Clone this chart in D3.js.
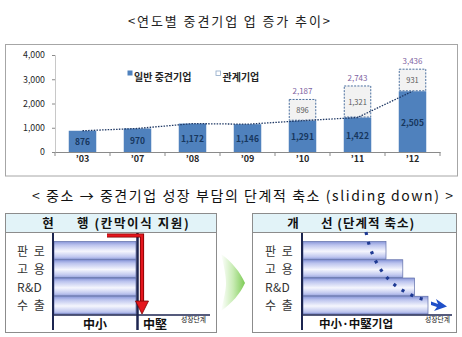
<!DOCTYPE html>
<html><head><meta charset="utf-8">
<script src="https://cdn.jsdelivr.net/npm/d3@7"></script>
<style>
html,body{margin:0;padding:0;background:#fff;}
svg{display:block;}
text{font-family:"Noto Sans CJK KR","Noto Sans",sans-serif;}
</style></head><body>
<svg id="c" width="462" height="337"></svg>
<script>
// ---- data ----
const years = ["’03","’07","’08","’09","’10","’11","’12"];
const general = [876,970,1172,1146,1291,1422,2505];
const affiliate = [0,0,0,0,896,1321,931];
const totals = [null,null,null,null,2187,2743,3436];
const yTicks = [0,1000,2000,3000,4000];
const legendLabels = ["일반 중견기업","관계기업"];
const supportRows = ["판 로","고 용","R&D","수 출"];
const currentStage = [1,1,1,1];
const improvedStage = [1,1.2,1.34,1.5];

const svg = d3.select("#c");
const fmt = d3.format(",");
const defs = svg.append("defs");

// ---- titles ----
svg.append("text").attr("x",229).attr("y",20).attr("text-anchor","middle")
  .attr("dominant-baseline","central").attr("font-size",13).attr("fill","#222")
  .attr("textLength",202).attr("lengthAdjust","spacing")
  .text("<연도별 중견기업 업 증가 추이>");

// ---- top chart ----
svg.append("rect").attr("x",5.5).attr("y",44.5).attr("width",452).attr("height",131.5)
  .attr("fill","none").attr("stroke","#a6a6a6");

const x = d3.scaleBand().domain(years).range([55,440]).paddingInner(0.5).paddingOuter(0.25);
const y = d3.scaleLinear().domain([0,4000]).range([152,55]);
const bw = x.bandwidth();

const ya = svg.append("g").attr("transform","translate(55,0)")
  .call(d3.axisLeft(y).tickValues(yTicks).tickSize(3).tickPadding(7).tickFormat(fmt));
ya.select(".domain").attr("stroke","#c8c8c8");
ya.selectAll(".tick line").attr("stroke","#8a8a8a");
ya.selectAll("text").attr("font-family","DejaVu Sans").attr("font-size",8.8).attr("fill","#262626");

const xa = svg.append("g").attr("transform","translate(0,152)")
  .call(d3.axisBottom(x).tickSize(0).tickPadding(4));
xa.select(".domain").attr("stroke","#8a8a8a");
xa.selectAll("text").attr("font-family","DejaVu Sans").attr("font-weight","bold")
  .attr("font-size",9).attr("fill","#262626");
const edges = years.map(d => x(d) - (x.step()-bw)/2).concat([x(years[years.length-1]) + bw + (x.step()-bw)/2]);
svg.append("g").selectAll("line").data(edges).join("line")
  .attr("x1",d=>d).attr("x2",d=>d).attr("y1",152).attr("y2",156).attr("stroke","#8a8a8a");

// general bars
svg.append("g").selectAll("rect").data(years).join("rect")
  .attr("x",d=>x(d)).attr("width",bw)
  .attr("y",(d,i)=>y(general[i])).attr("height",(d,i)=>y(0)-y(general[i]))
  .attr("fill","#4f81bd");

// affiliate boxes
const aff = years.map((d,i)=>({d,i})).filter(o=>affiliate[o.i]>0);
svg.append("g").selectAll("rect").data(aff).join("rect")
  .attr("x",o=>x(o.d)+0.5).attr("width",bw-1)
  .attr("y",o=>y(general[o.i]+affiliate[o.i])+0.5)
  .attr("height",o=>y(general[o.i])-y(general[o.i]+affiliate[o.i])-1)
  .attr("fill","#f2f2f2").attr("stroke","#4a6f9f").attr("stroke-dasharray","2,1.3");

// dotted trend line
svg.append("path").datum(years)
  .attr("d", d3.line().x(d=>x(d)+bw/2).y((d,i)=>y(general[i])))
  .attr("fill","none").attr("stroke","#1f3864").attr("stroke-width",1.3)
  .attr("stroke-dasharray","1.5,1.3");

// labels
svg.append("g").selectAll("text").data(years).join("text")
  .attr("x",d=>x(d)+bw/2).attr("y",(d,i)=>(y(general[i])+y(0))/2)
  .attr("text-anchor","middle").attr("dominant-baseline","central")
  .attr("font-family","DejaVu Sans").attr("font-weight","bold").attr("font-size",8.5)
  .attr("fill","#17375e").text((d,i)=>fmt(general[i]));
svg.append("g").selectAll("text").data(aff).join("text")
  .attr("x",o=>x(o.d)+bw/2)
  .attr("y",o=>(y(general[o.i])+y(general[o.i]+affiliate[o.i]))/2)
  .attr("text-anchor","middle").attr("dominant-baseline","central")
  .attr("font-family","DejaVu Sans").attr("font-size",7.5).attr("fill","#595959")
  .text(o=>fmt(affiliate[o.i]));
svg.append("g").selectAll("text").data(aff).join("text")
  .attr("x",o=>x(o.d)+bw/2)
  .attr("y",o=>y(totals[o.i])-8)
  .attr("text-anchor","middle").attr("dominant-baseline","central")
  .attr("font-family","DejaVu Sans").attr("font-size",8).attr("fill","#8064a2")
  .text(o=>fmt(totals[o.i]));

// legend
const lg = svg.append("g");
lg.append("rect").attr("x",127.5).attr("y",70.5).attr("width",5).attr("height",5).attr("fill","#4f81bd");
lg.append("text").attr("x",134).attr("y",76).attr("dominant-baseline","central")
  .attr("font-size",10).attr("font-weight","bold").attr("fill","#262626").text(legendLabels[0]);
lg.append("rect").attr("x",216).attr("y",71).attr("width",4.5).attr("height",4.5)
  .attr("fill","#fff").attr("stroke","#8ea9c8").attr("stroke-width",0.8);
lg.append("text").attr("x",222.5).attr("y",76).attr("dominant-baseline","central")
  .attr("font-size",10).attr("font-weight","bold").attr("fill","#262626").text(legendLabels[1]);

// ---- second title ----
svg.append("text").attr("x",242.5).attr("y",195).attr("text-anchor","middle")
  .attr("dominant-baseline","central").attr("font-size",14).attr("fill","#111")
  .attr("textLength",421).attr("lengthAdjust","spacing")
  .text("< 중소 → 중견기업 성장 부담의 단계적 축소 (sliding down) >");

// ---- bottom panels ----
const g1 = defs.append("linearGradient").attr("id","barGrad").attr("x1",0).attr("y1",0).attr("x2",0).attr("y2",1);
[[0,"#8795d8"],[0.2,"#bcc4ee"],[0.55,"#f5f6fd"],[0.85,"#c3caf0"],[1,"#9aa6e0"]]
  .forEach(s=>g1.append("stop").attr("offset",s[0]).attr("stop-color",s[1]));
const g2 = defs.append("linearGradient").attr("id","greenGrad").attr("x1",0).attr("y1",0).attr("x2",1).attr("y2",0);
[[0,"#ffffff"],[0.5,"#c9ecb5"],[1,"#7dcb55"]]
  .forEach(s=>g2.append("stop").attr("offset",s[0]).attr("stop-color",s[1]));

const rowY = d3.scaleBand().domain(supportRows).range([241,314]);

function panel(x0, x1, labelX, axisX, axisEnd, stageScale, stages) {
  const p = svg.append("g");
  p.append("rect").attr("x",x0+0.5).attr("y",213.5).attr("width",x1-x0).attr("height",119)
    .attr("fill","#fff").attr("stroke","#8c8c8c");
  p.append("rect").attr("x",x0+0.5).attr("y",213.5).attr("width",x1-x0).attr("height",19)
    .attr("fill","#e2f3f8").attr("stroke","#8c8c8c");
  p.selectAll(".bar").data(supportRows).join("rect").attr("class","bar")
    .attr("x",axisX+1).attr("y",d=>rowY(d)+0.5)
    .attr("width",(d,i)=>stageScale(stages[i])-axisX-1).attr("height",rowY.bandwidth()-0.5)
    .attr("fill","url(#barGrad)").attr("stroke","#5f6ea8").attr("stroke-width",0.7);
  p.selectAll(".rl").data(supportRows).join("text").attr("class","rl")
    .attr("x",labelX).attr("y",d=>rowY(d)+rowY.bandwidth()/2)
    .attr("dominant-baseline","central").attr("font-size",12).attr("fill","#333")
    .attr("letter-spacing",d=>d.includes(" ")?1.5:0.3)
    .text(d=>d);
  p.append("line").attr("x1",axisX).attr("x2",axisX).attr("y1",233).attr("y2",330)
    .attr("stroke","#1c2550").attr("stroke-width",2);
  p.append("line").attr("x1",axisX).attr("x2",axisEnd).attr("y1",315).attr("y2",315)
    .attr("stroke","#1c2550").attr("stroke-width",1.5);
  return p;
}

// left panel
const sL = d3.scaleLinear().domain([0,1]).range([53,136]);
const pL = panel(5, 216, 17, 53, 210, sL, currentStage);
pL.append("line").attr("x1",sL(1)+1.5).attr("x2",sL(1)+1.5).attr("y1",233).attr("y2",330)
  .attr("stroke","#1c2550").attr("stroke-width",2.5);
pL.append("text").attr("x",48).attr("y",222.5).attr("text-anchor","middle").attr("dominant-baseline","central")
  .attr("font-size",12.5).attr("font-weight","bold").attr("fill","#111").text("현");
pL.append("text").attr("x",77).attr("y",222.5).attr("dominant-baseline","central")
  .attr("font-size",12.5).attr("font-weight","bold").attr("fill","#111")
  .attr("letter-spacing",1.6).text("행 (칸막이식 지원)");
// red arrow
pL.append("path").attr("d","M107,235.5H142V304").attr("fill","none")
  .attr("stroke","#7a0000").attr("stroke-width",4.2);
pL.append("path").attr("d","M107,235.5H142V304").attr("fill","none")
  .attr("stroke","#e5161d").attr("stroke-width",2.6);
pL.append("path").attr("d","M135.5,301L148.5,301L142,314Z").attr("fill","#e5161d")
  .attr("stroke","#7a0000").attr("stroke-width",0.8);
pL.append("text").attr("x",95).attr("y",323).attr("text-anchor","middle").attr("dominant-baseline","central")
  .attr("font-size",12).attr("font-weight","bold").attr("fill","#111").text("中小");
pL.append("text").attr("x",143).attr("y",323).attr("dominant-baseline","central")
  .attr("font-size",12).attr("font-weight","bold").attr("fill","#111").text("中堅");
pL.append("text").attr("x",181).attr("y",319).attr("dominant-baseline","central")
  .attr("font-size",6.8).attr("fill","#111").text("성장단계");

// green arrow
svg.append("path").attr("d","M221,254 C232,262 240,272 245,283 C240,294 232,303 221,311 C224,298 226,290 226,283 C226,276 224,266 221,254Z")
  .attr("fill","url(#greenGrad)");

// right panel
const sR = d3.scaleLinear().domain([0,1]).range([302,386]);
const pR = panel(252, 456, 265, 302, 452, sR, improvedStage);
pR.append("text").attr("x",293).attr("y",222.5).attr("text-anchor","middle").attr("dominant-baseline","central")
  .attr("font-size",12.5).attr("font-weight","bold").attr("fill","#111").text("개");
pR.append("text").attr("x",321).attr("y",222.5).attr("dominant-baseline","central")
  .attr("font-size",12.5).attr("font-weight","bold").attr("fill","#111")
  .attr("letter-spacing",1).text("선 (단계적 축소)");
pR.append("path").attr("d","M366,232 Q377,288 426,300").attr("fill","none")
  .attr("stroke","#1f3a93").attr("stroke-width",3.2).attr("stroke-dasharray","3,7");
pR.append("path").attr("d","M431,301.5L438,304L436,299L447,306.5L434,311L437,307L431,305Z").attr("fill","#1f4fc8");
pR.append("text").attr("x",356).attr("y",323).attr("text-anchor","middle").attr("dominant-baseline","central")
  .attr("font-size",11.5).attr("font-weight","bold").attr("fill","#111").text("中小·中堅기업");
pR.append("text").attr("x",425).attr("y",319).attr("dominant-baseline","central")
  .attr("font-size",6.8).attr("fill","#111").text("성장단계");
</script>
</body></html>
